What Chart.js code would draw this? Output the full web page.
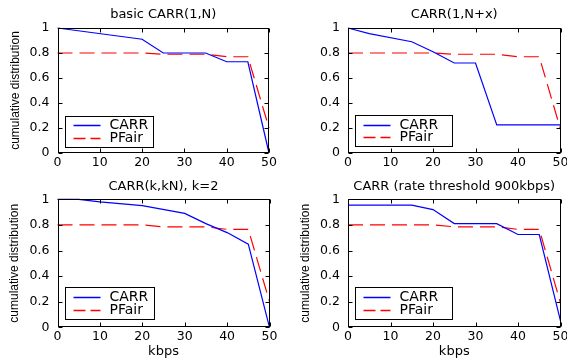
<!DOCTYPE html>
<html><head><meta charset="utf-8">
<script src="https://cdn.jsdelivr.net/npm/chart.js@4.4.1/dist/chart.umd.min.js"></script>
<style>
html,body{margin:0;padding:0;background:#fff;width:567px;height:358px;overflow:hidden}
canvas{position:absolute;display:block}
</style></head><body>
<canvas id="c1" width="283" height="176" style="left:0;top:0"></canvas>
<canvas id="c2" width="284" height="176" style="left:283px;top:0"></canvas>
<canvas id="c3" width="283" height="182" style="left:0;top:176px"></canvas>
<canvas id="c4" width="284" height="182" style="left:283px;top:176px"></canvas>
<script>
// ---- data ----
const xTicks = [0, 10, 20, 30, 40, 50];
const xTickLabels = ['0', '10', '20', '30', '40', '50'];
const yTicks = [0, 0.2, 0.4, 0.6, 0.8, 1];
const yTickLabels = ['0', '0.2', '0.4', '0.6', '0.8', '1'];
const seriesNames = ['CARR', 'PFair'];
const panelTitles = ['basic CARR(1,N)', 'CARR(1,N+x)', 'CARR(k,kN), k=2', 'CARR (rate threshold 900kbps)'];
const xAxisTitle = 'kbps';
const yAxisTitle = 'cumulative distribution';

const carr1X = [0, 20, 25, 35, 40, 45, 50];
const carr1Y = [1, 0.91, 0.8, 0.8, 0.73, 0.73, 0];
const pfair1X = [0, 20, 25, 35, 40, 45, 50];
const pfair1Y = [0.8, 0.8, 0.79, 0.79, 0.77, 0.77, 0.2];

const carr2X = [0, 5, 15, 20, 25, 30, 35, 50];
const carr2Y = [1, 0.955, 0.89, 0.81, 0.72, 0.72, 0.225, 0.225];
const pfair2X = [0, 20, 25, 35, 40, 45, 50];
const pfair2Y = [0.8, 0.8, 0.79, 0.79, 0.77, 0.77, 0.19];

const carr3X = [0, 5, 10, 20, 30, 35, 40, 45, 50];
const carr3Y = [1, 1, 0.98, 0.95, 0.89, 0.81, 0.74, 0.65, 0];
const pfair3X = [0, 20, 25, 35, 40, 45, 50];
const pfair3Y = [0.8, 0.8, 0.785, 0.785, 0.765, 0.765, 0.2];

const carr4X = [0, 15, 20, 25, 35, 40, 45, 50];
const carr4Y = [0.955, 0.955, 0.92, 0.81, 0.81, 0.725, 0.725, 0.05];
const pfair4X = [0, 20, 25, 35, 40, 45, 50];
const pfair4Y = [0.8, 0.8, 0.785, 0.785, 0.765, 0.765, 0.19];

// ---- helpers ----
const FONT = "'DejaVu Sans'";
const pts = (xs, ys) => xs.map((x, i) => ({x: x, y: ys[i]}));

const decor = {
  id: 'decor',
  afterDatasetsDraw(chart, args, o) {
    const {ctx, chartArea: a, scales: {x, y}} = chart;
    const L0 = Math.round(a.left) + 0.5, R0 = Math.round(a.right) - 0.5;
    const T0 = Math.round(a.top) + 0.5, B0 = Math.round(a.bottom) - 0.5;
    ctx.save();
    ctx.strokeStyle = '#000'; ctx.lineWidth = 1; ctx.setLineDash([]);
    ctx.strokeRect(L0, T0, R0 - L0, B0 - T0);
    ctx.beginPath();
    xTicks.forEach(v => {
      const px = Math.round(x.getPixelForValue(v)) + 0.5;
      ctx.moveTo(px, B0); ctx.lineTo(px, B0 - o.tick);
      ctx.moveTo(px, T0); ctx.lineTo(px, T0 + o.tick);
    });
    yTicks.forEach(v => {
      const py = Math.round(y.getPixelForValue(v)) + 0.5;
      ctx.moveTo(L0, py); ctx.lineTo(L0 + o.tick, py);
      ctx.moveTo(R0, py); ctx.lineTo(R0 - o.tick, py);
    });
    ctx.stroke();
    // title
    ctx.fillStyle = '#000';
    ctx.font = '13px ' + FONT;
    ctx.textAlign = 'center'; ctx.textBaseline = 'middle';
    ctx.fillText(o.title, (a.left + a.right) / 2, a.top - o.titleGap);
    // legend
    const G = o.legend;
    const bx = Math.round(a.left + G.dx) + 0.5, by = Math.round(a.bottom - G.dy) + 0.5;
    ctx.fillStyle = '#fff';
    ctx.fillRect(bx, by, G.w, G.h);
    ctx.strokeStyle = '#000'; ctx.lineWidth = 1;
    ctx.strokeRect(bx, by, G.w, G.h);
    chart.data.datasets.forEach((ds, i) => {
      const ry = Math.round(by + G.rows[i]) + 0.5;
      ctx.strokeStyle = ds.borderColor; ctx.lineWidth = 1.5;
      ctx.setLineDash(ds.borderDash ? [12, 5] : []);
      ctx.beginPath(); ctx.moveTo(bx + G.lx, ry); ctx.lineTo(bx + G.lx + G.ll, ry); ctx.stroke();
      ctx.setLineDash([]);
      ctx.fillStyle = '#000'; ctx.font = '14px ' + FONT;
      ctx.textAlign = 'left'; ctx.textBaseline = 'middle';
      ctx.fillText(ds.label, bx + G.tx, ry);
    });
    ctx.restore();
  }
};

function makePanel(id, title, cx, cy, px, py, g) {
  const canvas = document.getElementById(id);
  const W = canvas.width, H = canvas.height;
  return new Chart(canvas, {
    type: 'line',
    data: {
      datasets: [
        {label: seriesNames[0], data: pts(cx, cy), borderColor: '#0000ff', borderWidth: 1.2,
         pointRadius: 0, tension: 0, fill: false, clip: false},
        {label: seriesNames[1], data: pts(px, py), borderColor: '#ff0000', borderWidth: 1.2,
         borderDash: [15, 7], pointRadius: 0, tension: 0, fill: false, clip: false}
      ]
    },
    options: {
      responsive: false, animation: false, devicePixelRatio: 1,
      layout: {padding: {top: g.T, left: 0, right: W - g.R, bottom: 0}},
      plugins: {
        legend: {display: false}, tooltip: {enabled: false}, title: {display: false},
        decor: {title: title, titleGap: g.titleGap, tick: 4, legend: g.legend}
      },
      scales: {
        x: {
          type: 'linear', min: 0, max: 50,
          afterBuildTicks: s => { s.ticks = xTicks.map(v => ({value: v})); },
          afterFit: s => { s.height = H - g.B; s.paddingLeft = 0; s.paddingRight = 0; },
          ticks: {callback: v => xTickLabels[xTicks.indexOf(v)], color: '#000',
                  font: {family: FONT, size: 12.5}, padding: 2, maxRotation: 0, autoSkip: false},
          grid: {display: false, drawTicks: false}, border: {display: false},
          title: {display: g.xTitle, text: xAxisTitle, color: '#000',
                  font: {family: FONT, size: 13, lineHeight: 1}, padding: 0}
        },
        y: {
          type: 'linear', min: 0, max: 1,
          afterBuildTicks: s => { s.ticks = yTicks.map(v => ({value: v})); },
          afterFit: s => { s.width = g.L; s.paddingTop = 0; s.paddingBottom = 0; },
          ticks: {callback: v => yTickLabels[yTicks.indexOf(v)], color: '#000',
                  font: {family: FONT, size: 12.5}, padding: 8, autoSkip: false},
          grid: {display: false, drawTicks: false}, border: {display: false},
          title: {display: g.yTitle, text: yAxisTitle, color: '#000',
                  font: {family: "'Liberation Sans'", size: 12, lineHeight: 1.2},
                  padding: {top: g.yTitlePad, bottom: 0}}
        }
      }
    },
    plugins: [decor]
  });
}

makePanel('c1', panelTitles[0], carr1X, carr1Y, pfair1X, pfair1Y,
  {L: 57.5, T: 28, R: 269, B: 153, titleGap: 13.7, xTitle: false, yTitle: true, yTitlePad: 8,
   legend: {dx: 7, dy: 37, w: 88, h: 31, lx: 8, ll: 27, tx: 44, rows: [8.5, 21]}});
makePanel('c2', panelTitles[1], carr2X, carr2Y, pfair2X, pfair2Y,
  {L: 65, T: 28, R: 277.5, B: 153, titleGap: 13.7, xTitle: false, yTitle: false, yTitlePad: 0,
   legend: {dx: 7, dy: 38, w: 97, h: 31, lx: 8, ll: 27, tx: 44, rows: [9, 21.5]}});
makePanel('c3', panelTitles[2], carr3X, carr3Y, pfair3X, pfair3Y,
  {L: 57.5, T: 23.3, R: 269.5, B: 151.3, titleGap: 13, xTitle: true, yTitle: true, yTitlePad: 7.5,
   legend: {dx: 7, dy: 40.5, w: 89, h: 32, lx: 8, ll: 27, tx: 44, rows: [9.3, 22.6]}});
makePanel('c4', panelTitles[3], carr4X, carr4Y, pfair4X, pfair4Y,
  {L: 65, T: 23.3, R: 277.5, B: 151.3, titleGap: 12.8, xTitle: true, yTitle: true, yTitlePad: 15.5,
   legend: {dx: 7, dy: 40, w: 97, h: 32, lx: 8, ll: 27, tx: 44, rows: [9.4, 22.7]}});
</script>
</body></html>
